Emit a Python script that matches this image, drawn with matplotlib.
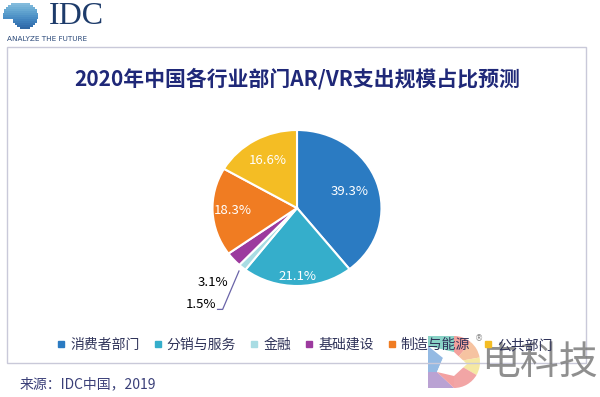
import matplotlib
matplotlib.use('Agg')
import matplotlib.pyplot as plt
import numpy as np
from matplotlib.patches import Rectangle, Wedge, Polygon
from matplotlib.lines import Line2D

plt.rcParams['font.family'] = ['Noto Sans CJK SC', 'DejaVu Sans']

# data
categories = ['消费者部门', '分销与服务', '金融', '基础建设', '制造与能源', '公共部门']
shares = [39.3, 21.1, 1.5, 3.1, 18.3, 16.6]
colors = ['#2b7bc2', '#35aecb', '#a8dce3', '#9c3a9e', '#f07c22', '#f4bd24']
title = '2020年中国各行业部门AR/VR支出规模占比预测'
source = '来源：IDC中国，2019'

W, H = 600, 397
fig = plt.figure(figsize=(W / 100, H / 100), dpi=100)


def fx(x):
    return x / W


def fy(y):
    return 1 - y / H


# frame box
fig.patches.append(Rectangle((fx(7), fy(363)), fx(579), 316 / H, transform=fig.transFigure,
                             fill=False, edgecolor='#c9c9d9', linewidth=1.0))

# IDC logo
logo = fig.add_axes([0, fy(34), fx(48), 34 / H])
logo.set_xlim(0, 48)
logo.set_ylim(34, 0)
logo.axis('off')
cx, cy, r = 25, 16, 13
for i, yy in enumerate(np.arange(4, 29.5, 2.0)):
    dy = yy - cy
    if abs(dy) >= r:
        continue
    half = np.sqrt(r ** 2 - dy ** 2)
    left = cx - half - (9 if dy < 3 else 0)
    shade = plt.cm.Blues(0.5 + 0.4 * i / 12)
    logo.plot([left, cx + half], [yy, yy], color=shade, linewidth=1.2, solid_capstyle='butt')
fig.text(fx(49), fy(17), 'IDC', family='Liberation Serif', fontsize=23, color='#1d3b6a',
         va='center', ha='left')
fig.text(fx(7), fy(39), 'ANALYZE THE FUTURE', family='DejaVu Sans', fontsize=5.2,
         color='#2c4a7a', va='center', ha='left')

# title
fig.text(fx(297), fy(78.5), title, fontsize=15, fontweight='bold', color='#1f2878',
         ha='center', va='center')

# pie
ax = fig.add_axes([fx(212.5), fy(286), 169 / W, 156 / H])
wedges, _ = ax.pie(shares, colors=colors, startangle=90, counterclock=False,
                   wedgeprops=dict(edgecolor='white', linewidth=1.5))
ax.set_aspect('auto')
ax.set_xlim(-1, 1)
ax.set_ylim(-1, 1)

label_dist = [0.66, 0.88, None, None, 0.76, 0.7]
for w, val, d in zip(wedges, shares, label_dist):
    if d is None:
        continue
    ang = np.deg2rad((w.theta1 + w.theta2) / 2)
    ax.text(d * np.cos(ang), d * np.sin(ang), f'{val}%', color='white', fontsize=9.5,
            ha='center', va='center')

# small slices labelled outside
ax.text(-0.99, -0.95, f'{shares[3]}%', color='black', fontsize=9.5, ha='center', va='center',
        clip_on=False)
ax.text(-0.95, -1.24, f'{shares[2]}%', color='black', fontsize=9.5, ha='right', va='center',
        clip_on=False)
ang = np.deg2rad((wedges[2].theta1 + wedges[2].theta2) / 2)
ax.plot([-0.94, -0.88, 1.06 * np.cos(ang)], [-1.30, -1.30, 1.06 * np.sin(ang)],
        color='#6a64a8', linewidth=0.9, clip_on=False)

# legend
handles = [Line2D([], [], marker='s', linestyle='none', markersize=4.5, color=c) for c in colors]
leg = fig.legend(handles, categories, loc='center', bbox_to_anchor=(fx(305), fy(345)), ncol=6,
                 frameon=False, fontsize=10, handlelength=0.6, handletextpad=0.35,
                 columnspacing=1.0, borderpad=0)
for t in leg.get_texts():
    t.set_color('#30345a')

# source
fig.text(fx(20), fy(384), source, fontsize=10, color='#3a3f78', ha='left', va='center')

# watermark (semi-transparent, drawn over the box like in the reference)
wm = fig.add_axes([fx(425), fy(392), fx(60), 60 / H])
wm.set_xlim(0, 60)
wm.set_ylim(60, 0)
wm.set_aspect('equal')
wm.axis('off')
wcx, wcy, wr = 29, 30, 26
arcs = [(-90, -50, '#f08a84'), (-50, -10, '#f4b58a'), (-10, 30, '#f3e38c'), (30, 90, '#ef8f8f')]
for a1, a2, c in arcs:
    wm.add_patch(Wedge((wcx, wcy), wr, a1, a2, facecolor=c, edgecolor='none', alpha=0.8))
wm.add_patch(Polygon([[3, 4], [29, 4], [29, 20], [3, 14]], facecolor='#6cc7b8', alpha=0.8))
wm.add_patch(Polygon([[3, 14], [18, 26], [12, 40], [3, 40]], facecolor='#79a9dc', alpha=0.8))
wm.add_patch(Polygon([[3, 40], [12, 40], [29, 56], [3, 56]], facecolor='#a98bc9', alpha=0.8))
wm.add_patch(Polygon([[12, 40], [29, 56], [29, 40]], facecolor='#f08a8a', alpha=0.8))
wm.add_patch(Polygon([[18, 26], [29, 20], [42, 32], [29, 44], [12, 40]], facecolor='white'))
fig.text(fx(481), fy(363), '电科技', fontsize=28, color='#7c7c7c',
         alpha=0.85, ha='left', va='center')
fig.text(fx(479), fy(339), '®', fontsize=6, color='#888888', ha='center', va='center',
         family='DejaVu Sans')

fig.savefig('out.png', dpi=100)
